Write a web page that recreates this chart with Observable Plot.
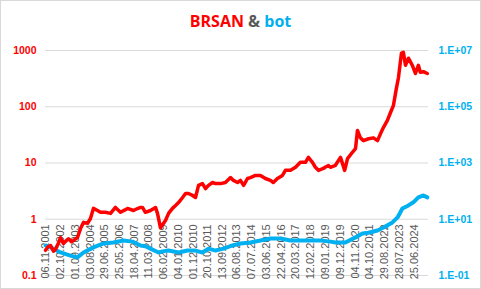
<!DOCTYPE html>
<html><head><meta charset="utf-8">
<script src="https://cdn.jsdelivr.net/npm/d3@7"></script>
<script src="https://cdn.jsdelivr.net/npm/@observablehq/plot@0.6"></script>
<style>
body{margin:0;background:#fff;}
#chart{position:relative;width:481px;height:289px;box-sizing:border-box;border:1px solid #d9d9d9;overflow:hidden;background:#fff;}
#title{height:30px;padding-top:9px;line-height:22px;text-align:center;font-family:"Open Sans",sans-serif;font-weight:bold;font-size:16px;color:#595959;}
#chart svg{display:block;}
</style>
</head><body>
<div id="chart"><div id="title"><span style="color:#ff0000">BRSAN</span> &amp; <span style="color:#00b0f0">bot</span></div></div>
<script>
// BRSAN (left log axis)
const brsanDates = ["2001-11-06","2002-01-10","2002-03-01","2002-05-05","2002-06-15","2002-08-25","2002-10-08","2002-12-12","2003-02-20","2003-04-05","2003-06-12","2003-07-28","2003-10-22","2004-01-02","2004-03-08","2004-06-06","2004-08-10","2004-10-15","2005-01-15","2005-03-22","2005-07-12","2005-11-03","2006-02-20","2006-06-14","2006-09-12","2006-11-18","2007-04-01","2007-07-01","2007-09-05","2007-10-20","2007-12-24","2008-04-15","2008-08-08","2008-09-20","2008-11-25","2009-01-12","2009-03-18","2009-05-26","2009-08-22","2009-10-30","2010-01-05","2010-04-05","2010-06-10","2010-08-15","2010-11-14","2011-01-20","2011-03-29","2011-06-25","2011-09-02","2011-11-07","2012-02-07","2012-04-13","2012-08-04","2012-11-21","2013-03-15","2013-05-19","2013-08-18","2013-10-23","2014-01-02","2014-03-30","2014-06-03","2014-09-24","2015-01-15","2015-05-05","2015-08-26","2015-10-30","2016-01-30","2016-05-22","2016-07-27","2016-11-17","2017-03-11","2017-06-28","2017-10-19","2017-12-24","2018-03-25","2018-05-30","2018-08-07","2018-11-24","2019-01-12","2019-03-18","2019-05-01","2019-08-22","2019-12-14","2020-03-16","2020-05-19","2020-09-06","2020-11-14","2020-12-28","2021-03-04","2021-05-12","2021-09-02","2021-12-20","2022-03-22","2022-05-27","2022-08-04","2022-10-30","2023-01-08","2023-03-15","2023-05-19","2023-07-05","2023-09-09","2023-10-23","2023-12-09","2024-02-13","2024-05-11","2024-07-19","2024-09-23","2024-11-06","2025-01-15","2025-04-12"];
const brsanValues = [0.28,0.33,0.34,0.27,0.29,0.38,0.47,0.37,0.42,0.45,0.40,0.42,0.47,0.69,0.88,0.85,1.03,1.56,1.43,1.33,1.33,1.27,1.62,1.33,1.45,1.56,1.43,1.55,1.62,1.62,1.33,1.43,1.62,1.27,0.71,0.80,0.95,1.27,1.56,1.76,1.98,2.44,2.87,2.87,2.65,2.44,3.99,4.3,3.5,4.0,4.5,4.3,4.3,4.5,5.5,4.9,4.5,4.9,4.0,5.3,5.5,6.0,6.0,5.3,4.9,4.5,5.3,6.0,7.4,7.4,8.4,10.3,10.3,12.6,10.3,8.4,7.4,8.0,8.5,9.0,8.4,9.1,12.6,7.4,12,15.5,18,38,28,25,27,28,25,33,43,57,79,106,212,330,890,930,545,730,545,390,545,410,420,390];

// bot (right log axis)
const botDates = ["2001-11-06","2002-03-01","2002-10-08","2003-05-19","2003-10-22","2004-03-08","2004-10-15","2005-05-30","2006-01-08","2006-08-18","2007-03-11","2007-09-05","2007-12-24","2008-04-15","2008-10-12","2009-01-12","2009-05-26","2010-01-05","2010-07-24","2011-01-20","2011-06-25","2011-11-07","2012-04-13","2012-10-08","2013-04-27","2013-10-23","2014-06-03","2015-01-15","2015-08-26","2016-04-05","2016-11-17","2017-06-28","2018-02-07","2018-09-20","2019-05-01","2019-08-22","2020-04-01","2020-11-14","2021-04-17","2021-09-02","2022-03-22","2022-08-04","2023-02-20","2023-06-14","2023-10-01","2024-02-13","2024-06-03","2024-09-23","2025-01-15","2025-04-12"];
const botValues = [1.17,1.0,0.66,0.51,0.44,0.66,1.0,1.38,1.5,1.76,1.6,1.17,1.1,0.9,0.66,0.72,0.77,0.66,0.77,0.77,0.66,0.9,0.77,0.9,1.17,1.38,1.5,1.76,2.07,2.07,1.76,1.76,1.76,1.76,1.6,1.5,1.5,2.26,3.1,3.3,4.0,5.1,7.7,11.6,24,31,40,60,70,60];

const leftTicks = [0.1, 1, 10, 100, 1000];
const leftTickLabels = ["0.1", "1", "10", "100", "1000"];
const rightTicks = [0.1, 10, 1e3, 1e5, 1e7];
const rightTickLabels = ["1.E-01", "1.E+01", "1.E+03", "1.E+05", "1.E+07"];
const xTickLabels = ["06.11.2001","02.10.2002","01.09.2003","03.08.2004","29.06.2005","25.05.2006","18.04.2007","11.03.2008","06.02.2009","04.01.2010","01.12.2010","20.10.2011","13.09.2012","06.08.2013","07.07.2014","03.06.2015","22.04.2016","20.03.2017","12.02.2018","09.01.2019","09.12.2019","04.11.2020","04.10.2021","29.08.2022","28.07.2023","25.06.2024"];

const parseISO = d3.utcParse("%Y-%m-%d");
const parseDMY = d3.utcParse("%d.%m.%Y");
const brsan = brsanDates.map((d, i) => ({date: parseISO(d), value: brsanValues[i]}));
const bot = botDates.map((d, i) => ({date: parseISO(d), value: botValues[i]}));
// map right-axis value onto the left log scale: 0.1..1e7 <-> 0.1..1000
const toLeft = v => Math.sqrt(v / 10);
const ticks = xTickLabels.map(s => ({date: parseDMY(s), label: s}));

const chart = Plot.plot({
  width: 479, height: 247,
  marginLeft: 44, marginRight: 52, marginTop: 10, marginBottom: 12,
  x: {type: "utc", domain: [parseISO("2001-11-06"), parseISO("2025-05-08")], axis: null},
  y: {type: "log", domain: [0.1, 1000], axis: null},
  style: {fontFamily: "'Liberation Sans', Arial, sans-serif", background: "transparent", overflow: "visible"},
  marks: [
    Plot.ruleY(leftTicks, {stroke: "#d9d9d9", strokeWidth: 1}),
    Plot.axisY(leftTicks, {anchor: "left", label: null, tickSize: 0, tickPadding: 9, tickFormat: d => leftTickLabels[leftTicks.indexOf(d)], fill: "#ff0000", fontWeight: "bold", fontSize: 10.5}),
    Plot.axisY(rightTicks.map(toLeft), {anchor: "right", label: null, tickSize: 0, tickPadding: 10, tickFormat: d => rightTickLabels[leftTicks.findIndex(t => Math.abs(t - d) / t < 1e-6)], fill: "#00b0f0", fontWeight: "bold", fontSize: 10.5}),
    Plot.text(ticks, {x: "date", y: () => 1, text: "label", rotate: -90, textAnchor: "end", dy: 5, fill: "#595959", fontSize: 11}),
    Plot.line(bot, {x: "date", y: d => toLeft(d.value), stroke: "#00b0f0", strokeWidth: 4}),
    Plot.line(brsan, {x: "date", y: "value", stroke: "#ff0000", strokeWidth: 3.5})
  ]
});
document.getElementById("chart").appendChild(chart);
</script>
</body></html>
